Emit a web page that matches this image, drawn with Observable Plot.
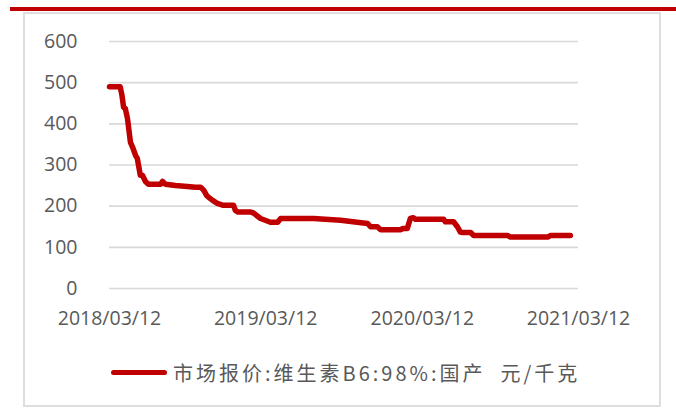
<!DOCTYPE html>
<html>
<head>
<meta charset="utf-8">
<script src="https://cdn.jsdelivr.net/npm/d3@7"></script>
<script src="https://cdn.jsdelivr.net/npm/@observablehq/plot@0.6"></script>
<style>
  html, body { margin: 0; padding: 0; background: #fff; }
  #wrap { position: relative; width: 676px; height: 408px; overflow: hidden; background: #fff; }
  #topbar { position: absolute; left: 10px; top: 7px; width: 666px; height: 4px; background: #C00000; }
  #frame { position: absolute; left: 23px; top: 12px; width: 634px; height: 391px; border: 2px solid #dedede; }
  #chart { position: absolute; left: 0; top: 0; }
  #legend { position: absolute; left: 111px; top: 358px; height: 28px; display: flex; align-items: center; }
  #legend .swatch { width: 56px; height: 5px; border-radius: 3px; background: #C00000; margin-right: 6px; }
  #legend .label { font-family: "Noto Sans CJK SC", sans-serif; font-size: 20px; color: #595959; letter-spacing: 3px; white-space: pre; }
</style>
</head>
<body>
<div id="wrap">
  <div id="topbar"></div>
  <div id="frame"></div>
  <div id="chart"></div>
  <div id="legend"><div class="swatch"></div><div class="label" id="legendLabel"></div></div>
</div>
<script>
const seriesName = "市场报价:维生素B6:98%:国产  元/千克";
const dates = ["2018-03-12","2018-04-06","2018-04-10","2018-04-14","2018-04-18","2018-04-23","2018-04-30","2018-05-05","2018-05-12","2018-05-16","2018-05-23","2018-05-28","2018-06-04","2018-06-11","2018-07-09","2018-07-14","2018-07-21","2018-08-13","2018-09-10","2018-09-29","2018-10-11","2018-10-18","2018-10-25","2018-10-29","2018-11-08","2018-11-19","2018-12-03","2018-12-27","2018-12-31","2019-01-05","2019-02-05","2019-02-12","2019-02-28","2019-03-23","2019-04-09","2019-04-16","2019-04-23","2019-07-02","2019-09-03","2019-11-05","2019-11-12","2019-11-28","2019-12-05","2020-01-21","2020-01-28","2020-02-06","2020-02-13","2020-02-20","2020-02-25","2020-05-01","2020-05-05","2020-05-24","2020-06-02","2020-06-09","2020-06-14","2020-07-03","2020-07-10","2020-09-27","2020-10-04","2020-12-30","2021-01-06","2021-02-21"];
const prices = [490,490,470,440,437,413,355,343,323,316,275,275,260,253,253,260,253,250,248,246,246,239,226,222,214,207,202,202,190,186,186,183,170,161,161,170,170,170,166,158,150,150,143,143,146,146,170,172,168,168,162,162,150,137,136,136,129,129,125,125,129,129];
const xTickLabels = ["2018/03/12","2019/03/12","2020/03/12","2021/03/12"];
const yTicks = [0,100,200,300,400,500,600];

const parseD = d3.utcParse("%Y-%m-%d");
const parseT = d3.utcParse("%Y/%m/%d");
const fmt = d3.utcFormat("%Y/%m/%d");
const data = dates.map((d, i) => ({date: parseD(d), price: prices[i]}));
const xTicks = xTickLabels.map(parseT);

const chart = Plot.plot({
  width: 676,
  height: 340,
  marginTop: 41,
  marginBottom: 52,
  marginLeft: 109,
  marginRight: 98,
  style: {fontFamily: "'Open Sans', sans-serif", fontSize: "19.5px", color: "#595959", background: "transparent", overflow: "visible"},
  x: {type: "utc", domain: [xTicks[0], xTicks[xTicks.length - 1]], label: null},
  y: {domain: [0, 600], label: null},
  marks: [
    Plot.ruleY(yTicks, {stroke: "#d9d9d9", strokeWidth: 1.6}),
    Plot.axisY({ticks: yTicks, tickSize: 0, tickPadding: 32, label: null}),
    Plot.axisX({ticks: xTicks, tickSize: 0, tickPadding: 23, tickFormat: fmt, label: null}),
    Plot.line(data, {x: "date", y: "price", stroke: "#C00000", strokeWidth: 5.5, strokeLinejoin: "round", strokeLinecap: "round"})
  ]
});
document.getElementById("chart").appendChild(chart);
document.getElementById("legendLabel").textContent = seriesName;
</script>
</body>
</html>
